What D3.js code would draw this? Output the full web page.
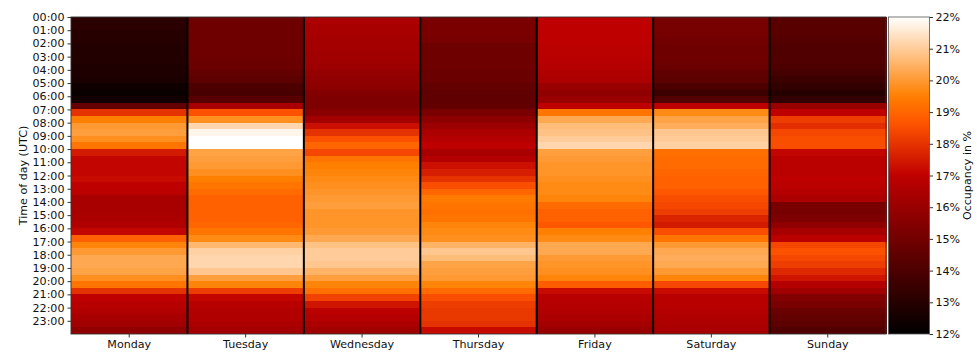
<!DOCTYPE html>
<html><head><meta charset="utf-8">
<script src="https://cdn.jsdelivr.net/npm/d3@7/dist/d3.min.js"></script>
<style>body{margin:0;background:#fff} text{font-family:"DejaVu Sans",sans-serif}</style>
</head><body><svg id="c" width="977" height="353"></svg>
<script>
// ---- data ----
const days = ["Monday","Tuesday","Wednesday","Thursday","Friday","Saturday","Sunday"];
const hourLabels = ["00:00","01:00","02:00","03:00","04:00","05:00","06:00","07:00","08:00","09:00","10:00","11:00",
  "12:00","13:00","14:00","15:00","16:00","17:00","18:00","19:00","20:00","21:00","22:00","23:00"];
// half-hourly occupancy (%) from 00:00 to 23:30
const monday = [13.1,13.1,13.0,13.0,12.9,12.9,12.9,12.8,12.8,12.7,12.4,12.3,12.5,14.6,18.0,19.5,20.0,20.1,19.8,19.3,17.5,17.1,
  17.1,17.1,17.2,17.0,16.9,16.4,16.4,16.4,16.5,16.6,17.1,18.9,19.6,20.0,20.3,20.3,20.2,19.8,19.3,18.0,17.0,16.8,16.6,16.4,16.2,15.8];
const tuesday = [14.9,14.9,14.9,14.9,14.9,14.9,14.8,14.8,14.6,14.4,14.0,13.9,14.3,16.4,18.6,19.8,21.2,21.8,22.0,22.0,20.2,20.1,
  20.0,19.8,19.5,19.3,19.1,18.9,18.9,18.9,18.9,19.0,19.3,19.7,20.6,21.1,21.2,21.2,20.9,20.1,19.6,18.2,17.1,16.8,16.6,16.6,16.5,16.3];
const wednesday = [16.5,16.4,16.4,16.3,16.3,16.2,16.2,16.1,15.9,15.8,15.7,15.4,15.3,15.3,15.6,16.3,17.3,18.0,18.6,19.0,18.4,19.3,
  19.5,19.6,19.7,19.8,19.9,20.0,20.1,19.9,19.9,19.9,20.0,20.3,20.8,21.0,21.0,20.9,20.5,20.1,19.6,19.2,18.3,17.4,16.9,16.7,16.5,16.2];
const thursday = [15.2,15.2,15.2,15.1,14.9,14.9,14.9,14.9,14.8,14.8,14.6,14.5,14.5,14.6,15.2,15.7,16.1,16.5,16.7,17.0,16.4,16.7,
  17.3,17.6,18.0,18.5,19.0,19.4,19.3,19.2,19.3,19.6,19.7,19.8,20.5,20.9,20.7,20.2,20.1,20.0,19.6,19.1,18.5,18.2,18.1,18.1,18.0,17.2];
const friday = [17.0,17.0,17.0,17.0,16.9,16.9,16.8,16.7,16.6,16.5,16.0,15.8,16.0,17.0,19.3,20.3,20.7,20.8,21.0,21.2,20.1,20.0,
  19.9,19.9,19.8,19.7,19.7,19.6,19.1,18.9,18.9,18.7,19.5,19.7,20.3,20.3,20.0,19.9,19.8,19.6,18.8,17.2,16.8,16.7,16.6,16.5,16.3,16.0];
const saturday = [15.1,15.1,15.1,15.0,14.9,14.9,14.9,14.8,14.5,14.4,14.0,13.6,14.2,17.0,19.7,20.2,20.4,20.9,21.0,21.1,19.2,19.1,
  19.1,19.0,18.9,18.9,18.7,18.5,18.4,18.2,17.7,17.5,18.5,19.3,20.0,20.3,20.4,20.3,20.0,19.6,18.4,17.2,16.8,16.8,16.7,16.6,16.5,16.4];
const sunday = [14.3,14.3,14.3,14.2,14.1,14.1,14.1,14.0,13.8,13.6,13.3,13.0,13.3,16.0,17.0,18.2,17.9,18.4,18.5,18.5,17.1,16.9,
  16.9,16.9,17.0,16.9,16.7,16.5,15.2,15.1,15.3,15.8,16.4,16.9,18.4,18.6,18.4,18.2,17.8,17.4,16.7,16.2,15.4,15.2,14.8,14.6,14.4,14.1];
const series = [monday,tuesday,wednesday,thursday,friday,saturday,sunday];
const cbTicks = [12,13,14,15,16,17,18,19,20,21,22];
const cbLabels = ["12%","13%","14%","15%","16%","17%","18%","19%","20%","21%","22%"];
const vmin = 12, vmax = 22;

// ---- colormap (gist_heat) ----
const clamp = v => Math.max(0, Math.min(1, v));
function gistHeat(t){
  t = clamp(t);
  return d3.rgb(clamp(1.5*t)*255, clamp(2*t-1)*255, clamp(4*t-3)*255).formatHex();
}
const color = v => gistHeat((v - vmin) / (vmax - vmin));

// ---- layout ----
const svg = d3.select("#c");
const L = 71, R = 886, T = 17, B = 334;
const x = d3.scaleBand().domain(days).range([L, R]);
const y = d3.scaleLinear().domain([0, 24]).range([T, B]);

const g = svg.append("g").attr("shape-rendering", "crispEdges");
series.forEach((vals, di) => {
  g.selectAll(null).data(vals).enter().append("rect")
    .attr("x", x(days[di]))
    .attr("width", x.bandwidth() + 0.5)
    .attr("y", (v, i) => y(i / 2))
    .attr("height", (v, i) => Math.min(B, y((i + 1) / 2) + 1) - y(i / 2))
    .attr("fill", v => color(v));
});

// day separators
svg.append("g").selectAll("line").data(days.slice(1)).enter().append("line")
  .attr("x1", d => x(d)).attr("x2", d => x(d))
  .attr("y1", T).attr("y2", B)
  .attr("stroke", "#000").attr("stroke-width", 2);

// spines
svg.append("rect").attr("x", L).attr("y", T).attr("width", R - L).attr("height", B - T)
  .attr("fill", "none").attr("stroke", "#333").attr("stroke-width", 0.9);

// axes
const fs = 11.1;
const yAxis = svg.append("g").attr("transform", `translate(${L},0)`)
  .call(d3.axisLeft(y).tickValues(d3.range(24)).tickFormat(i => hourLabels[i]).tickSize(3.5).tickPadding(3));
yAxis.select(".domain").remove();
yAxis.selectAll("text").attr("font-size", fs).attr("fill", "#111").attr("font-family", "DejaVu Sans");
yAxis.selectAll("line").attr("stroke", "#333");

const xAxis = svg.append("g").attr("transform", `translate(0,${B})`)
  .call(d3.axisBottom(x).tickSize(3.5).tickPadding(2.5));
xAxis.select(".domain").remove();
xAxis.selectAll("text").attr("font-size", fs).attr("fill", "#111").attr("font-family", "DejaVu Sans");
xAxis.selectAll("line").attr("stroke", "#333");

svg.append("text").attr("transform", `translate(27,${(T + B) / 2}) rotate(-90)`)
  .attr("text-anchor", "middle").attr("font-size", fs).attr("fill", "#111")
  .text("Time of day (UTC)");

// colorbar
const cbL = 888.5, cbW = 41;
const cy = d3.scaleLinear().domain([vmin, vmax]).range([B, T]);
const defs = svg.append("defs");
const grad = defs.append("linearGradient").attr("id", "cbg")
  .attr("x1", 0).attr("y1", 1).attr("x2", 0).attr("y2", 0);
d3.range(0, 1.0001, 0.02).forEach(t => {
  grad.append("stop").attr("offset", t).attr("stop-color", gistHeat(t));
});
svg.append("rect").attr("x", cbL).attr("y", T).attr("width", cbW).attr("height", B - T)
  .attr("fill", "url(#cbg)").attr("stroke", "#555").attr("stroke-width", 0.8);
const cAxis = svg.append("g").attr("transform", `translate(${cbL + cbW},0)`)
  .call(d3.axisRight(cy).tickValues(cbTicks).tickFormat((d, i) => cbLabels[i]).tickSize(3.5).tickPadding(2.5));
cAxis.select(".domain").remove();
cAxis.selectAll("text").attr("font-size", fs).attr("fill", "#111").attr("font-family", "DejaVu Sans");
cAxis.selectAll("line").attr("stroke", "#333");
svg.append("text").attr("transform", `translate(971,${(T + B) / 2}) rotate(-90)`)
  .attr("text-anchor", "middle").attr("font-size", fs).attr("fill", "#111")
  .text("Occupancy in %");
</script></body></html>
